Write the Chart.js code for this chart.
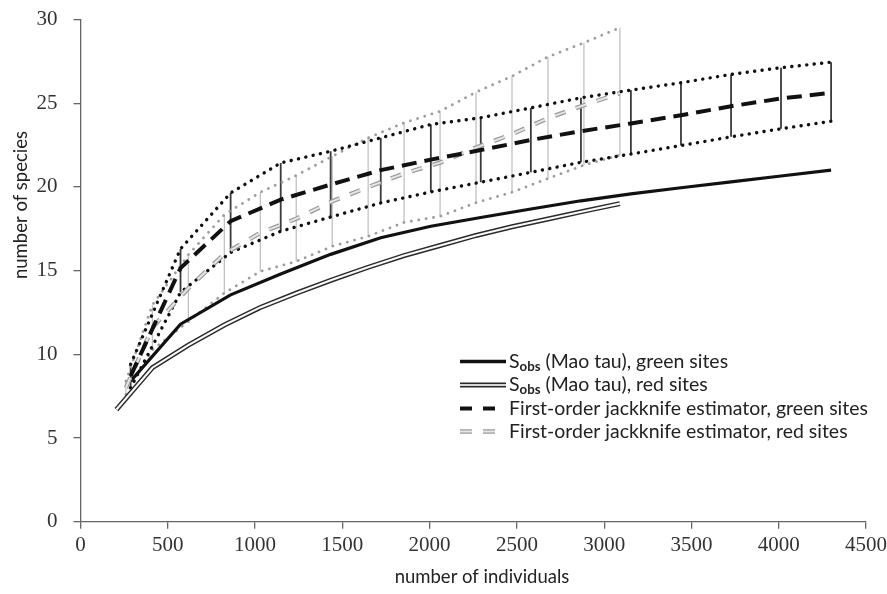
<!DOCTYPE html>
<html>
<head>
<meta charset="utf-8">
<script src="https://cdn.jsdelivr.net/npm/chart.js@4"></script>
<style>
  body { margin: 0; background: #fff; }
  #wrap { width: 887px; height: 594px; }
</style>
</head>
<body>
<div id="wrap"><canvas id="myChart" width="887" height="594"></canvas></div>
<script>
// sample sizes (number of individuals)
const greenN = [287, 573, 860, 1147, 1433, 1720, 2007, 2293, 2580, 2867, 3153, 3440, 3727, 4013, 4300];
const redN = [206, 412, 618, 824, 1030, 1236, 1442, 1648, 1854, 2060, 2266, 2472, 2678, 2884, 3090];
const redJackN = [260, 412, 618, 824, 1030, 1236, 1442, 1648, 1854, 2060, 2266, 2472, 2678, 2884, 3090];

// observed species (Mao tau)
const greenSobs = [8.4, 11.8, 13.55, 14.8, 15.97, 16.96, 17.65, 18.17, 18.68, 19.17, 19.58, 19.95, 20.3, 20.65, 21.0];
const redSobs = [6.7, 9.2, 10.55, 11.75, 12.8, 13.65, 14.45, 15.2, 15.9, 16.5, 17.1, 17.62, 18.08, 18.55, 19.0];

// first-order jackknife with upper / lower limits
const greenJack = [8.7, 15.15, 17.95, 19.24, 20.14, 21.0, 21.63, 22.2, 22.8, 23.33, 23.79, 24.28, 24.82, 25.28, 25.62];
const greenUp = [9.4, 16.3, 19.64, 21.43, 22.13, 22.93, 23.73, 24.13, 24.72, 25.32, 25.78, 26.22, 26.72, 27.12, 27.45];
const greenLow = [8.0, 13.7, 16.08, 17.35, 18.2, 19.04, 19.7, 20.28, 20.87, 21.47, 21.96, 22.47, 22.99, 23.47, 23.92];
const redJack = [8.0, 11.6, 13.95, 16.0, 17.25, 18.1, 19.14, 19.99, 20.8, 21.45, 22.35, 23.15, 24.1, 24.88, 25.6];
const redUp = [8.4, 12.95, 15.95, 18.34, 19.68, 20.68, 21.83, 22.93, 23.83, 24.52, 25.66, 26.61, 27.77, 28.61, 29.51];
const redLow = [7.6, 10.27, 11.96, 13.66, 14.95, 15.55, 16.45, 17.05, 17.88, 18.24, 19.06, 19.68, 20.5, 21.3, 21.9];

const xTicks = [0, 500, 1000, 1500, 2000, 2500, 3000, 3500, 4000, 4500];
const yTicks = [0, 5, 10, 15, 20, 25, 30];

const legendLabels = [
  ['S', 'obs', ' (Mao tau), green sites'],
  ['S', 'obs', ' (Mao tau), red sites'],
  ['', '', 'First-order jackknife estimator, green sites'],
  ['', '', 'First-order jackknife estimator, red sites']
];
const xTitle = 'number of individuals';
const yTitle = 'number of species';

const SANS = "Lato, 'Open Sans', sans-serif";
const SERIF = "'Liberation Serif', 'DejaVu Serif', serif";

function pts(xs, ys) {
  return xs.map((x, i) => ({ x: x, y: ys[i] }));
}

function ds(data, color, width, dash, order, cap) {
  return {
    data: data, borderColor: color, borderWidth: width, borderDash: dash || [],
    borderCapStyle: cap || 'butt', pointRadius: 0, tension: 0, fill: false, order: order
  };
}

const dots = [0.1, 7.4];
const datasets = [
  ds(pts(redJackN, redUp), '#9d9d9d', 2.8, dots, 20, 'round'),
  ds(pts(redJackN, redLow), '#9d9d9d', 2.8, dots, 20, 'round'),
  ds(pts(greenN, greenUp), '#111', 3.4, dots, 19, 'round'),
  ds(pts(greenN, greenLow), '#111', 3.4, dots, 19, 'round'),
  ds(pts(redN, redSobs), '#2a2a2a', 5, [], 15),
  ds(pts(redN, redSobs), '#fafafa', 2.1, [], 14),
  ds(pts(greenN, greenSobs), '#111', 3.2, [], 13),
  ds(pts(redJackN, redJack), '#9a9a9a', 4.4, [11, 11], 12),
  ds(pts(redJackN, redJack), '#e6e6e6', 2, [11, 11], 11),
  ds(pts(greenN, greenJack), '#111', 4, [15, 8], 10)
];

// vertical error bars, drawn under the lines
const errorBars = {
  id: 'errorBars',
  beforeDatasetsDraw(chart) {
    const ctx = chart.ctx, xs = chart.scales.x, ys = chart.scales.y;
    ctx.save();
    function bars(nx, up, low, color, w) {
      ctx.strokeStyle = color; ctx.lineWidth = w;
      nx.forEach((n, i) => {
        const px = xs.getPixelForValue(n);
        ctx.beginPath();
        ctx.moveTo(px, ys.getPixelForValue(up[i]));
        ctx.lineTo(px, ys.getPixelForValue(low[i]));
        ctx.stroke();
      });
    }
    bars(redJackN, redUp, redLow, '#c2c2c2', 1.3);
    bars(greenN, greenUp, greenLow, '#3a3a3a', 1.8);
    ctx.restore();
  }
};

// legend + axis titles
const extras = {
  id: 'extras',
  afterDraw(chart) {
    const ctx = chart.ctx;
    ctx.save();
    ctx.font = '16px ' + SANS;
    const fs = 16 * 359 / ctx.measureText(legendLabels[2][2]).width;
    const rows = [361.5, 385, 408.5, 431.5];
    const x0 = 460, x1 = 506, tx = 509;
    function sample(y, color, w, dash) {
      ctx.strokeStyle = color; ctx.lineWidth = w; ctx.setLineDash(dash); ctx.lineCap = 'butt';
      ctx.beginPath(); ctx.moveTo(x0, y); ctx.lineTo(x1, y); ctx.stroke();
    }
    sample(rows[0], '#111', 3.4, []);
    sample(rows[1], '#2a2a2a', 5, []);
    sample(rows[1], '#d8d8d8', 2.1, []);
    sample(rows[2], '#111', 4, [12, 11]);
    sample(rows[3], '#9a9a9a', 4.4, [12, 11]);
    sample(rows[3], '#e6e6e6', 2, [12, 11]);
    ctx.setLineDash([]);

    ctx.fillStyle = '#222';
    ctx.textBaseline = 'middle';
    ctx.textAlign = 'left';
    legendLabels.forEach((lab, i) => {
      let x = tx;
      const y = rows[i];
      if (lab[0]) {
        ctx.font = fs + 'px ' + SANS;
        ctx.fillText(lab[0], x, y);
        x += ctx.measureText(lab[0]).width;
        ctx.font = 'bold ' + (fs * 0.68) + 'px ' + SANS;
        ctx.fillText(lab[1], x, y + 5);
        x += ctx.measureText(lab[1]).width;
      }
      ctx.font = fs + 'px ' + SANS;
      ctx.fillText(lab[2], x, y);
    });

    ctx.font = (fs * 0.95) + 'px ' + SANS;
    ctx.textAlign = 'center';
    ctx.fillText(xTitle, 482, 577);
    ctx.translate(21, 205);
    ctx.rotate(-Math.PI / 2);
    ctx.fillText(yTitle, 0, 0);
    ctx.restore();
  }
};

const axisColor = '#666';
const tickFont = { family: SERIF, size: 21 };
const myChart = new Chart(document.getElementById('myChart'), {
  type: 'line',
  data: { datasets: datasets },
  options: {
    responsive: false,
    animation: false,
    events: [],
    layout: { padding: { top: 19.5, right: 21, bottom: 0, left: 0 } },
    plugins: { legend: { display: false }, tooltip: { enabled: false } },
    scales: {
      x: {
        type: 'linear', min: 0, max: 4500,
        afterBuildTicks: s => { s.ticks = xTicks.map(v => ({ value: v })); },
        afterFit: s => { s.height = 72.3; s.paddingLeft = 0; s.paddingRight = 0; },
        ticks: { font: tickFont, color: '#333', padding: 4, maxRotation: 0, autoSkip: false, callback: v => String(v) },
        grid: { drawOnChartArea: false, drawTicks: true, tickLength: 7, color: axisColor, lineWidth: 1.3 },
        border: { color: axisColor, width: 1.3 }
      },
      y: {
        type: 'linear', min: 0, max: 30,
        afterBuildTicks: s => { s.ticks = yTicks.map(v => ({ value: v })); },
        afterFit: s => { s.width = 80.5; s.paddingTop = 0; s.paddingBottom = 0; },
        ticks: { font: tickFont, color: '#333', padding: 16, callback: v => String(v) },
        grid: { drawOnChartArea: false, drawTicks: true, tickLength: 7, color: axisColor, lineWidth: 1.3 },
        border: { color: axisColor, width: 1.3 }
      }
    }
  },
  plugins: [errorBars, extras]
});
</script>
</body>
</html>
